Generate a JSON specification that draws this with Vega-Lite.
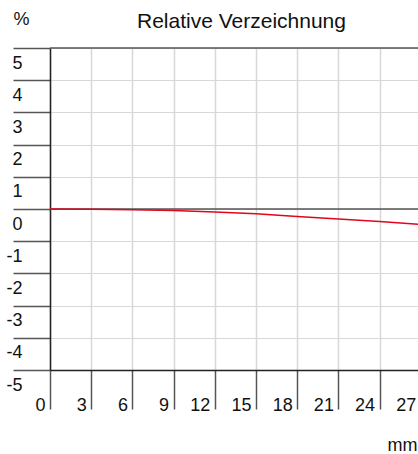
{
  "$schema": "https://vega.github.io/schema/vega-lite/v6.json",
  "autosize": "none",
  "padding": {"left": 50, "top": 48, "right": 0, "bottom": 84},
  "width": 412,
  "height": 322,
  "config": {"view": {"stroke": null}, "font": "Liberation Sans"},
  "title": {"text": "Relative Verzeichnung", "anchor": "start", "frame": "group", "dx": 87, "dy": 39, "offset": 0, "baseline": "alphabetic", "fontSize": 21, "fontWeight": "normal", "color": "#111"},
  "layer": [
    {
      "data": {"values": [{"v": 0}, {"v": 5}]},
      "mark": {"type": "rule", "color": "#555", "strokeWidth": 1.5},
      "encoding": {"y": {"field": "v", "type": "quantitative", "scale": {"domain": [-5, 5], "nice": false},
          "axis": {"values": [-5, -4, -3, -2, -1, 0, 1, 2, 3, 4, 5], "labelExpr": "datum.value < 0 ? '-' + abs(datum.value) : '' + datum.value", "tickSize": 37, "tickColor": "#555", "tickWidth": 1.5, "domainColor": "#222", "domainWidth": 1.5,
            "labelAlign": "right", "labelBaseline": "top", "labelPadding": -9, "labelOffset": 6, "labelFontSize": 18, "labelColor": "#111", "labelOverlap": false, "labelFlush": false, "labelBound": false,
            "grid": true, "gridColor": "#d8d8d8", "gridWidth": 1,
            "title": "%", "titleAngle": 0, "titleX": -37, "titleY": -24, "titleAlign": "left", "titleBaseline": "alphabetic", "titleFontSize": 18, "titleFontWeight": "normal", "titleColor": "#111"}}}
    },
    {
      "data": {"values": [
        {"mm": 0, "pct": 0},
        {"mm": 3, "pct": -0.005},
        {"mm": 6, "pct": -0.02},
        {"mm": 9, "pct": -0.05},
        {"mm": 12, "pct": -0.09},
        {"mm": 15, "pct": -0.15},
        {"mm": 18, "pct": -0.23},
        {"mm": 21, "pct": -0.31},
        {"mm": 24, "pct": -0.39},
        {"mm": 27, "pct": -0.48},
        {"mm": 28, "pct": -0.52}
      ]},
      "mark": {"type": "line", "color": "#e3051b", "strokeWidth": 1.5},
      "encoding": {
        "x": {"field": "mm", "type": "quantitative", "scale": {"domain": [0, 30], "nice": false},
          "axis": {"values": [0, 3, 6, 9, 12, 15, 18, 21, 24, 27], "tickSize": 39, "tickColor": "#555", "tickWidth": 1.5, "domainColor": "#222", "domainWidth": 1.5,
            "labelAlign": "right", "labelBaseline": "alphabetic", "labelPadding": 1, "labelOffset": -5, "labelFontSize": 18, "labelColor": "#111", "labelOverlap": false, "labelFlush": false, "labelBound": false,
            "grid": true, "gridColor": "#d8d8d8", "gridWidth": 1.5,
            "title": "mm", "titleX": 337, "titleY": 80, "titleAlign": "left", "titleBaseline": "alphabetic", "titleFontSize": 18, "titleFontWeight": "normal", "titleColor": "#111"}},
        "y": {"field": "pct", "type": "quantitative", "scale": {"domain": [-5, 5], "nice": false},
          "axis": {"values": [-5, -4, -3, -2, -1, 0, 1, 2, 3, 4, 5], "labelExpr": "datum.value < 0 ? '-' + abs(datum.value) : '' + datum.value", "tickSize": 37, "tickColor": "#555", "tickWidth": 1.5, "domainColor": "#222", "domainWidth": 1.5,
            "labelAlign": "right", "labelBaseline": "top", "labelPadding": -9, "labelOffset": 6, "labelFontSize": 18, "labelColor": "#111", "labelOverlap": false, "labelFlush": false, "labelBound": false,
            "grid": true, "gridColor": "#d8d8d8", "gridWidth": 1,
            "title": "%", "titleAngle": 0, "titleX": -37, "titleY": -24, "titleAlign": "left", "titleBaseline": "alphabetic", "titleFontSize": 18, "titleFontWeight": "normal", "titleColor": "#111"}}
      }
    }
  ]
}
